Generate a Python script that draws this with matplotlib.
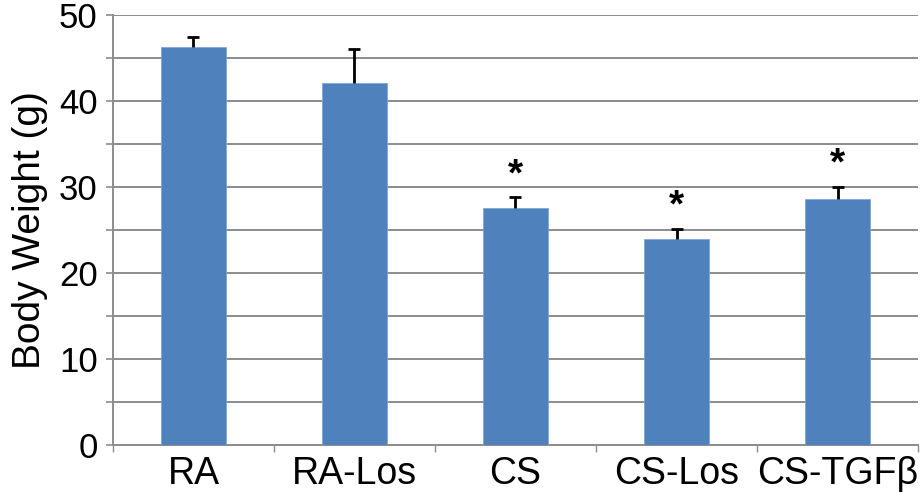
import matplotlib
matplotlib.use("Agg")
import matplotlib.pyplot as plt
from matplotlib.ticker import MultipleLocator

plt.rcParams["font.family"] = ["Liberation Sans", "DejaVu Sans"]

groups = ["RA", "RA-Los", "CS", "CS-Los", "CS-TGF\u03b2"]
weights = [46.3, 42.1, 27.6, 24.0, 28.6]
errors = [1.2, 4.0, 1.2, 1.1, 1.4]
significant = [False, False, True, True, True]

BAR_COLOR = "#4F81BD"
GRID_COLOR = "#8C8C8C"

fig = plt.figure(figsize=(9.23, 4.94), dpi=100)
ax = fig.add_axes([0.1224, 0.0992, 0.8722, 0.8704])

x = list(range(len(groups)))
tops = [w + e for w, e in zip(weights, errors)]
ax.bar(x, weights, width=0.4, color=BAR_COLOR, edgecolor="#7FA6D6",
       linewidth=0.6, zorder=3)
# upper-only error bars: stem + cap
ax.vlines(x, weights, tops, color="black", linewidth=2, zorder=4)
ax.plot(x, tops, ls="none", marker="_", markersize=8, markeredgewidth=2,
        color="black", zorder=4)

for xi, t, s in zip(x, tops, significant):
    if s:
        ax.annotate("*", xy=(xi, t), xytext=(0, 3), textcoords="offset points",
                    ha="center", va="bottom", fontsize=28, fontweight="bold",
                    zorder=5)

ax.set_xlim(-0.5, len(groups) - 0.5)
ax.set_ylim(0, 50)
ax.set_xticks(x)
ax.set_xticklabels(groups, fontsize=27)
ax.set_xticks([i - 0.5 for i in range(len(groups) + 1)], minor=True)
ax.tick_params(axis="x", which="major", length=0, pad=8)
ax.tick_params(axis="x", which="minor", length=5, width=1, color=GRID_COLOR)

ax.yaxis.set_major_locator(MultipleLocator(10))
ax.yaxis.set_minor_locator(MultipleLocator(5))
ax.tick_params(axis="y", which="both", length=5, width=1.2, color=GRID_COLOR,
               labelsize=25, pad=6)
ax.grid(axis="y", which="both", color=GRID_COLOR, linewidth=1.4, zorder=0)
ax.set_axisbelow(True)

for side in ["top", "right"]:
    ax.spines[side].set_visible(False)
for side in ["left", "bottom"]:
    ax.spines[side].set_color(GRID_COLOR)
    ax.spines[side].set_linewidth(1.4)

ax.set_ylabel("Body Weight (g)", fontsize=28, labelpad=8)

fig.savefig("out.png", dpi=100)
